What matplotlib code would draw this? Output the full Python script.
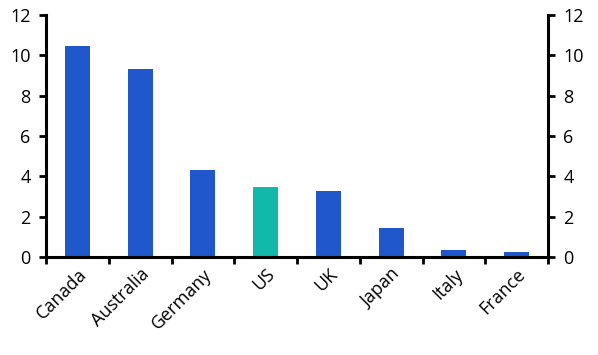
import matplotlib
matplotlib.use("Agg")
import matplotlib.pyplot as plt
import numpy as np

countries = ["Canada", "Australia", "Germany", "US", "UK", "Japan", "Italy", "France"]
values = [10.45, 9.3, 4.3, 3.45, 3.28, 1.45, 0.35, 0.25]
highlight = "US"

blue = "#2058cc"
teal = "#10b9a9"

plt.rcParams['font.family'] = ['Open Sans', 'DejaVu Sans']

fig = plt.figure(figsize=(5.98, 3.55), dpi=100)
ax = fig.add_axes([46/598, 1-257/355, (548-46)/598, (257-15)/355])

x = np.arange(len(countries))
cols = [teal if c == highlight else blue for c in countries]
ax.bar(x, values, width=0.4, color=cols)

ax.set_xlim(-0.5, len(countries)-0.5)
ax.set_ylim(0, 12)
ax.set_yticks(range(0, 13, 2))

# ticks sit between categories, labels in the middle
ax.set_xticks(np.arange(-0.5, len(countries), 1))
ax.set_xticklabels([])
ax.set_xticks(x, minor=True)
ax.set_xticklabels(countries, minor=True, rotation=45, ha="right", rotation_mode="anchor")
ax.tick_params(axis="x", which="minor", length=0, pad=6)
ax.tick_params(axis="x", which="major", length=5, width=2, direction="out")

ax.tick_params(axis="y", which="major", length=5, width=2, direction="out",
               left=True, right=True, labelleft=True, labelright=True, pad=6)
ax.tick_params(which="both", labelsize=13, colors="black")

for s in ["left", "right", "bottom"]:
    ax.spines[s].set_linewidth(2.2)
ax.spines["top"].set_visible(False)

fig.savefig("out.png", dpi=100)
